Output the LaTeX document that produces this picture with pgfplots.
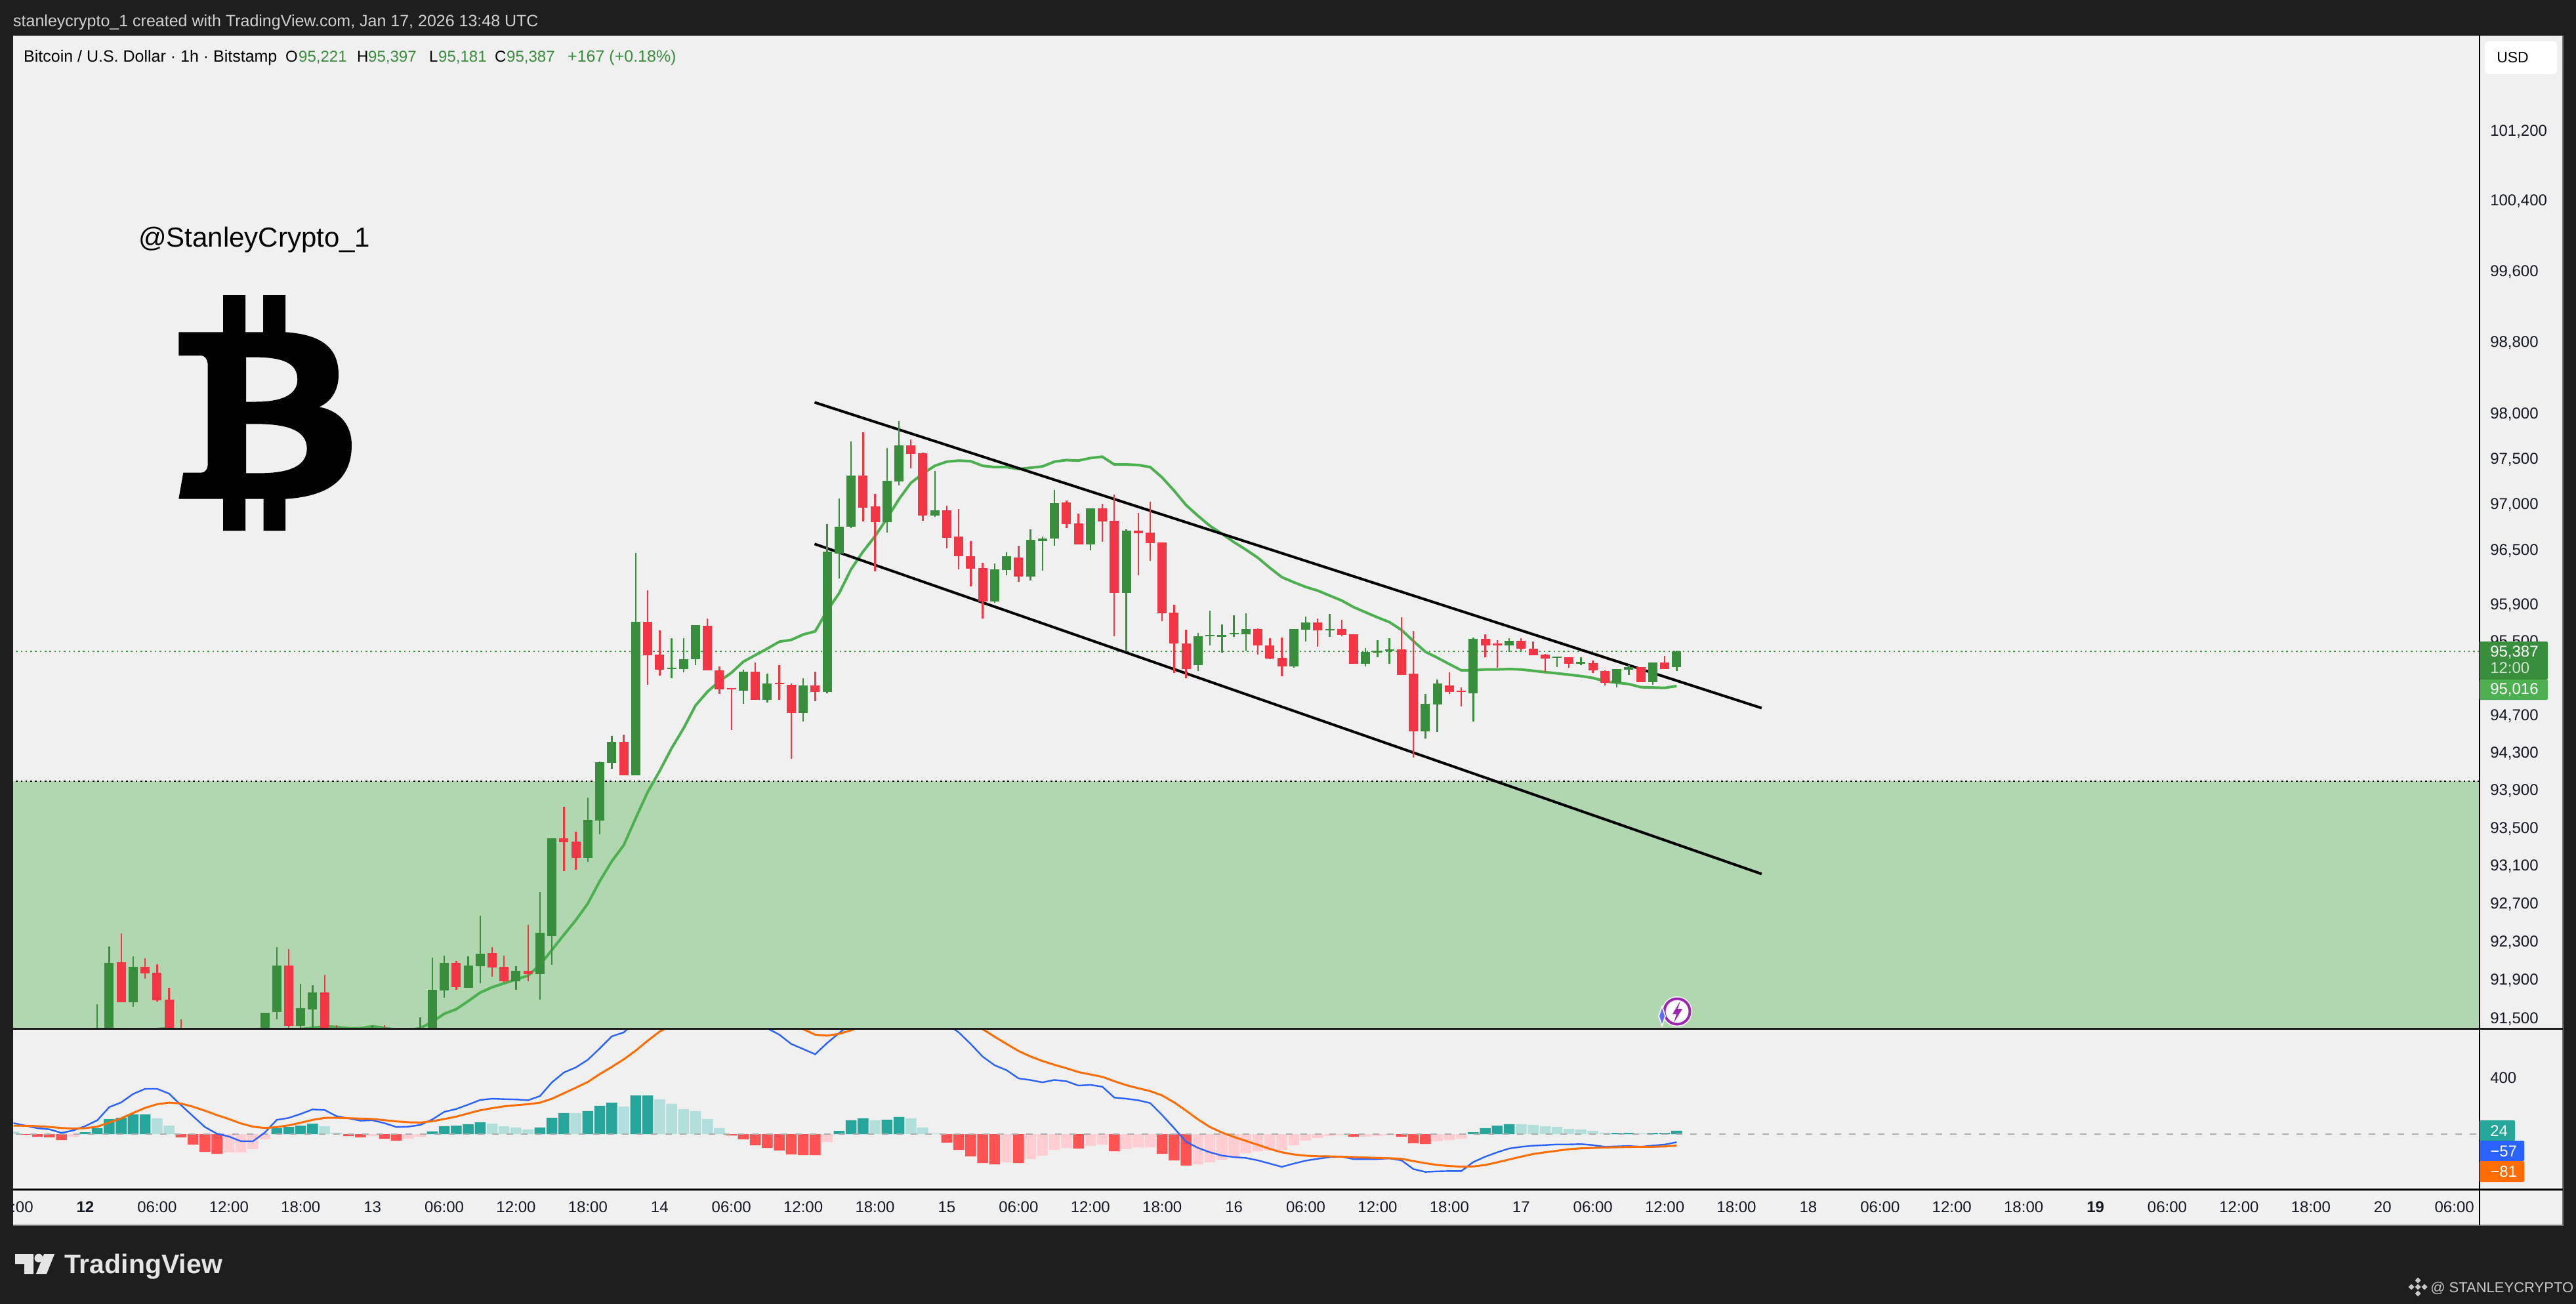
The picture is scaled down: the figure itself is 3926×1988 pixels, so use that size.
\documentclass[border=0pt]{standalone}
\usepackage{fontspec}
\setmainfont{Liberation Sans}
\usepackage{pgfplots}
\usepackage{pgfplotstable}
\pgfplotsset{compat=1.18}
\definecolor{dark}{HTML}{1E1E1E}
\definecolor{panel}{HTML}{F0F0F0}
\definecolor{zone}{HTML}{B1D7B1}
\definecolor{upc}{HTML}{388E3C}
\definecolor{dnc}{HTML}{F23645}
\definecolor{ema}{HTML}{4CAF50}
\definecolor{hteal}{HTML}{26A69A}
\definecolor{hlight}{HTML}{B2DFDB}
\definecolor{hred}{HTML}{FF5252}
\definecolor{hpink}{HTML}{FFCDD2}
\definecolor{macd}{HTML}{2962FF}
\definecolor{sig}{HTML}{FF6D00}
\definecolor{ticktxt}{HTML}{131722}
\definecolor{flash}{HTML}{9C27B0}
\definecolor{spark}{HTML}{5E6BFF}
\newcommand{\fs}[1]{\fontsize{#1}{#1}\selectfont}
\makeatletter
\newcommand{\pricetrafo}[1]{\begingroup\pgfkeys{/pgf/fpu=true,/pgf/fpu/output format=fixed}\pgfmathparse{ln(#1/91500)*1000}\pgfmath@smuggleone\pgfmathresult\endgroup}
\makeatother
% one vertical stroke per row of a candle table: table, first column, second column, colour, width
\newcommand{\candles}[5]{%
  \pgfplotstablegetrowsof{#1}\pgfmathtruncatemacro\nlast{\pgfplotsretval-1}%
  \pgfplotsforeachungrouped \ri in {0,...,\nlast}{%
    \pgfplotstablegetelem{\ri}{h}\of{#1}\let\cvH\pgfplotsretval
    \pgfplotstablegetelem{\ri}{#2}\of{#1}\let\cvA\pgfplotsretval
    \pgfplotstablegetelem{\ri}{#3}\of{#1}\let\cvB\pgfplotsretval
    \edef\cvDo{\noexpand\addplot[color=#4,line width=#5,forget plot] coordinates {(\cvH,\cvA)(\cvH,\cvB)};}%
    \cvDo
  }%
}
% h = hours since 12 Jan 00:00
\pgfplotstableread{
h open high low close
1 91200 91640 91100 91350
2 91300 92245 91200 92073
4 91660 92142 91612 92032
15 91250 91550 91200 91550
16 91557 92238 91488 92045
18 91419 91853 91371 91598
19 91591 91839 91371 91763
24 91280 91426 91200 91340
28 91250 91509 91200 91350
29 91350 92128 91300 91791
30 91784 92149 91708 92073
32 91812 92142 91812 92045
33 92039 92568 91860 92169
36 91880 92039 91791 91990
38 91956 92816 91688 92389
39 92355 93384 92052 93384
42 93176 93821 93135 93585
43 93578 94200 93433 94196
44 94185 94481 94129 94411
46 94058 96464 94058 95714
49 95200 95529 95095 95215
50 95200 95529 95165 95307
51 95300 95672 95243 95672
55 94968 95194 94827 95172
57 94862 95144 94841 95045
60 94721 95102 94630 95024
62 94947 96780 94940 96478
63 96457 97060 96177 96751
64 96751 97689 96730 97312
67 96802 97616 96687 97254
68 97246 97920 97203 97645
71 96873 97362 96859 96931
76 95932 96349 95918 96285
77 96277 96471 96220 96421
79 96206 96723 96163 96601
80 96593 96636 96270 96622
81 96615 97153 96536 97010
84 96557 96952 96493 96952
87 96019 96723 95400 96708
93 95236 95593 95179 95550
94 95550 95829 95457 95564
95 95543 95679 95379 95564
96 95579 95779 95543 95593
97 95579 95800 95400 95629
101 95229 95636 95215 95629
102 95622 95764 95493 95700
104 95614 95793 95543 95636
107 95257 95429 95229 95386
108 95379 95514 95329 95400
109 95400 95529 95250 95414
112 94524 94933 94453 94827
113 94813 95081 94517 95045
116 94940 95536 94630 95522
119 95457 95529 95386 95507
123 95321 95336 95222 95336
125 95257 95329 95243 95279
128 95052 95200 95003 95200
129 95194 95236 95137 95222
131 95059 95271 95031 95271
133 95221 95397 95181 95387
}\upcandles
\pgfplotstableread{
h open high low close
3 92080 92383 91660 91660
5 92032 92121 91908 91963
6 91970 92059 91667 91681
7 91688 91812 91250 91300
8 91350 91488 91200 91250
17 92045 92217 91371 91419
20 91763 91949 91250 91300
21 91350 91426 91200 91280
25 91340 91426 91200 91280
31 92073 92094 91791 91818
34 92176 92238 91928 92025
35 92032 92149 91867 91880
37 91990 92472 91880 91956
40 93384 93717 93038 93343
41 93349 93453 93051 93176
45 94411 94488 94058 94058
47 95714 96055 95031 95350
48 95357 95614 95130 95194
52 95664 95743 95186 95186
53 95186 95229 94933 94982
54 94996 94996 94545 94982
56 95172 95271 94862 94862
58 95052 95236 94862 95038
59 95031 95045 94235 94721
61 95024 95172 94855 94947
65 97312 97797 96809 96960
66 96967 97110 96263 96802
69 97645 97710 97391 97551
70 97558 97565 96816 96873
72 96931 96981 96514 96629
73 96636 96945 96285 96421
74 96428 96593 96098 96292
75 96299 96356 95743 95932
78 96407 96536 96148 96206
82 97017 97038 96737 96780
83 96787 96895 96557 96557
85 96952 97003 96586 96809
86 96816 97103 95550 96019
88 96708 96902 96220 96680
89 96687 97024 96378 96565
90 96572 96579 95721 95800
91 95807 95893 95158 95472
92 95472 95622 95102 95200
98 95629 95643 95357 95450
99 95457 95529 95307 95314
100 95321 95536 95123 95229
103 95700 95743 95443 95614
105 95636 95729 95557 95564
106 95572 95579 95257 95257
110 95407 95757 95137 95137
111 95144 95607 94242 94531
114 95024 95165 94926 94947
115 94961 95003 94792 94947
117 95522 95572 95329 95457
118 95472 95514 95215 95457
120 95507 95529 95400 95421
121 95421 95493 95350 95350
122 95357 95364 95172 95314
124 95329 95329 95215 95250
126 95264 95293 95158 95186
127 95179 95186 95024 95052
130 95222 95222 95059 95059
132 95271 95343 95200 95200
}\dncandles
\pgfplotstableread{
h v
6 91385
7 91395
8 91378
12 91357
18 91385
19 91399
20 91416
21 91406
22 91395
23 91395
24 91412
25 91399
26 91378
27 91378
28 91392
29 91461
30 91543
31 91591
32 91674
33 91763
34 91818
35 91860
36 91901
37 91942
38 92052
39 92211
40 92369
41 92520
42 92699
43 92934
44 93142
45 93315
46 93599
47 93876
48 94101
49 94347
50 94559
51 94806
52 94954
53 95067
54 95158
55 95278
56 95350
57 95421
58 95493
59 95514
60 95572
61 95607
62 95829
63 96019
64 96285
65 96478
66 96644
67 96837
68 97053
69 97232
70 97333
71 97420
72 97464
73 97478
74 97471
75 97420
76 97406
77 97406
78 97384
79 97399
80 97413
81 97464
82 97486
83 97478
84 97507
85 97522
86 97435
87 97435
88 97428
89 97406
90 97290
91 97146
92 96988
93 96866
94 96758
95 96672
96 96579
97 96500
98 96407
99 96299
100 96198
101 96141
102 96091
103 96048
104 95997
105 95943
106 95871
107 95814
108 95757
109 95707
110 95622
111 95500
112 95386
113 95321
114 95250
115 95186
116 95186
117 95194
118 95194
119 95200
120 95194
121 95179
122 95165
123 95151
124 95137
125 95123
126 95102
127 95067
128 95052
129 95038
130 95003
131 95000
132 94996
133 95016
}\emaline
\pgfplotstableread{
h v
0 14
1 42
2 107
3 116
4 140
5 140
16 42
17 51
18 60
19 74
29 19
30 56
31 60
32 70
33 84
38 47
39 116
40 149
42 163
43 200
44 223
46 274
47 274
63 23
64 98
65 112
67 102
68 121
116 14
117 42
118 60
119 70
128 9
129 9
131 9
132 9
133 24
}\histteal
\pgfplotstableread{
h v
-6 18
6 112
7 60
20 56
21 9
34 74
35 56
36 47
37 33
41 149
45 195
48 246
49 214
50 177
51 163
52 107
53 42
66 98
69 112
70 47
71 5
120 70
121 65
122 56
123 51
124 37
125 33
126 23
127 9
130 5
}\histlight
\pgfplotstableread{
h v
-5 -5
-4 -19
-3 -23
-2 -42
8 -23
9 -74
10 -126
11 -140
22 -14
23 -23
25 -33
26 -47
54 -9
55 -37
56 -79
57 -98
58 -116
59 -144
60 -149
61 -149
72 -60
73 -112
74 -158
75 -205
76 -214
78 -205
83 -102
86 -121
90 -140
91 -186
92 -223
106 -19
110 -19
111 -65
112 -70
}\histred
\pgfplotstableread{
h v
-1 -19
12 -130
13 -130
14 -107
15 -37
24 -14
27 -33
28 -19
62 -56
77 -200
79 -177
80 -153
81 -112
82 -98
84 -84
85 -74
87 -107
88 -93
89 -93
93 -214
94 -200
95 -181
96 -158
97 -135
98 -121
99 -116
100 -112
101 -79
102 -47
103 -28
104 -14
105 -8
107 -19
108 -14
109 -9
113 -51
114 -42
115 -33
}\histpink
\pgfplotstableread{
h v
-6 78
-5 60
-4 42
-3 34
-2 9
-1 26
0 57
1 98
2 191
3 225
4 285
5 321
6 321
7 287
8 205
9 127
10 50
11 3
12 -17
13 -50
14 -51
15 11
16 101
17 115
18 143
19 175
20 171
21 127
22 112
23 95
24 98
25 78
26 50
27 53
28 65
29 104
30 158
31 178
32 209
33 242
34 251
35 248
36 246
37 240
38 270
39 367
40 437
41 473
42 527
43 608
44 693
45 721
46 800
47 850
48 900
49 920
50 900
51 880
52 860
53 840
54 820
55 800
56 780
57 750
58 705
59 639
60 603
61 566
62 646
63 716
64 786
65 830
66 850
67 860
68 890
69 900
70 880
71 840
72 780
73 721
74 639
75 549
76 488
77 453
78 395
79 383
80 367
81 384
82 375
83 344
84 349
85 336
86 259
87 251
88 240
89 220
90 135
91 42
92 -54
93 -98
94 -129
95 -152
96 -163
97 -169
98 -186
99 -209
100 -232
101 -209
102 -188
103 -175
104 -163
105 -160
106 -177
107 -178
108 -177
109 -172
110 -186
111 -248
112 -268
113 -264
114 -262
115 -262
116 -198
117 -160
118 -129
119 -102
120 -90
121 -82
122 -78
123 -73
124 -73
125 -71
126 -78
127 -90
128 -87
129 -84
130 -90
131 -81
132 -74
133 -57
}\macdline
\pgfplotstableread{
h v
-6 60
-5 59
-4 56
-3 51
-2 43
-1 40
0 42
1 53
2 82
3 112
4 150
5 186
6 212
7 223
8 217
9 194
10 166
11 135
12 107
13 76
14 53
15 43
16 50
17 62
18 81
19 101
20 115
21 116
22 113
23 110
24 107
25 99
26 90
27 84
28 82
29 91
30 107
31 124
32 147
33 169
34 184
35 197
36 205
37 212
38 223
39 251
40 290
41 329
42 370
43 426
44 476
45 530
46 592
47 662
48 727
49 770
50 800
51 820
52 840
53 850
54 860
55 860
56 850
57 830
58 800
59 770
60 744
61 705
62 698
63 711
64 736
65 770
66 790
67 810
68 830
69 840
70 840
71 830
72 810
73 790
74 765
75 744
76 690
77 639
78 589
79 550
80 518
81 491
82 467
83 440
84 423
85 406
86 375
87 347
88 325
89 305
90 274
91 225
92 166
93 104
94 50
95 11
96 -20
97 -48
98 -76
99 -105
100 -129
101 -144
102 -153
103 -157
104 -158
105 -160
106 -163
107 -166
108 -169
109 -171
110 -175
111 -191
112 -206
113 -219
114 -226
115 -231
116 -229
117 -219
118 -200
119 -180
120 -160
121 -141
122 -129
123 -118
124 -107
125 -101
126 -98
127 -95
128 -93
129 -91
130 -90
131 -90
132 -87
133 -81
}\signalline
\pgfplotsset{
  paneaxis/.style={
    scale only axis, width=3758pt,
    xmin=-6.032, xmax=200.05,
    axis line style={draw=none},
    tick style={draw=none},
    major tick length=0pt,
    xtick=\empty,
    yticklabel pos=right,
    yticklabel style={font=\fs{24}, text=ticktxt, inner sep=0pt, anchor=base west, xshift=17pt, yshift=-8.5pt},
    clip=true,
  },
}
\begin{document}
\begin{tikzpicture}
\useasboundingbox (0,0) rectangle (3926pt,-1988pt);
\begin{scope}[x=1pt,y=-1pt]
  \fill[dark] (0,0) rectangle (3926,1988);
  \fill[panel] (20,54) rectangle (3906,1868);
  \draw[color=black!55,line width=1.5pt] (20,54.5) -- (3906,54.5) -- (3906,1868) -- (20,1868);
\end{scope}

% ---- price pane (logarithmic price scale)
\begin{axis}[paneaxis, at={(20pt,-55pt)}, anchor=north west, height=1512pt,
  y coord trafo/.code={\pricetrafo{#1}},
  ymin=91398, ymax=102283,
  ytick={101200,100400,99600,98800,98000,97500,97000,96500,95900,95500,94700,94300,93900,93500,93100,92700,92300,91900,91500},
  yticklabels={{101,200},{100,400},{99,600},{98,800},{98,000},{97,500},{97,000},{96,500},{95,900},{95,500},{94,700},{94,300},{93,900},{93,500},{93,100},{92,700},{92,300},{91,900},{91,500}}]
  \addplot[fill=zone,draw=none,forget plot] coordinates {(-7,93992)(201,93992)(201,91200)(-7,91200)};
  \addplot[black,line width=1.8pt,dash pattern=on 2.5pt off 4.8pt,forget plot] coordinates {(-7,93992)(201,93992)};
  \addplot[upc,line width=1.6pt,dash pattern=on 2.5pt off 4.8pt,forget plot] coordinates {(-7,95387)(201,95387)};
  \addplot[ema,line width=4pt,forget plot] table[x=h,y=v] {\emaline};
  \addplot[black,line width=4pt,forget plot] coordinates {(60.95,98125)(140.1,94778)};
  \addplot[black,line width=4pt,forget plot] coordinates {(60.95,96558)(140.1,93010)};
  \candles{\upcandles}{high}{low}{upc}{2.4pt}
  \candles{\upcandles}{open}{close}{upc}{14pt}
  \candles{\dncandles}{high}{low}{dnc}{2.4pt}
  \candles{\dncandles}{open}{close}{dnc}{14pt}
\end{axis}

% ---- MACD pane
\begin{axis}[paneaxis, at={(20pt,-1568pt)}, anchor=north west, height=245pt,
  ymin=-390.6, ymax=748.6,
  ytick={400}, yticklabels={400}]
  \addplot[ybar,bar width=16.5pt,bar shift=0pt,fill=hteal,draw=none,forget plot] table[x=h,y=v] {\histteal};
  \addplot[ybar,bar width=16.5pt,bar shift=0pt,fill=hlight,draw=none,forget plot] table[x=h,y=v] {\histlight};
  \addplot[ybar,bar width=16.5pt,bar shift=0pt,fill=hred,draw=none,forget plot] table[x=h,y=v] {\histred};
  \addplot[ybar,bar width=16.5pt,bar shift=0pt,fill=hpink,draw=none,forget plot] table[x=h,y=v] {\histpink};
  \addplot[black!32,line width=2.4pt,dash pattern=on 10pt off 12pt,forget plot] coordinates {(-7,0)(201,0)};
  \addplot[macd,line width=2.4pt,forget plot] table[x=h,y=v] {\macdline};
  \addplot[sig,line width=3pt,forget plot] table[x=h,y=v] {\signalline};
\end{axis}

% ---- time scale
\begin{axis}[paneaxis, at={(20pt,-1813pt)}, anchor=north west, height=55pt,
  ymin=0, ymax=1, ytick=\empty,
  xtick={0,6,12,18,24,30,36,42,48,54,60,66,72,78,84,90,96,102,108,114,120,126,132,138,144,150,156,162,168,174,180,186,192,198},
  xticklabels={\textbf{12},06:00,12:00,18:00,13,06:00,12:00,18:00,14,06:00,12:00,18:00,15,06:00,12:00,18:00,16,06:00,12:00,18:00,17,06:00,12:00,18:00,18,06:00,12:00,18:00,\textbf{19},06:00,12:00,18:00,20,06:00},
  xticklabel style={font=\fs{24}, text=ticktxt, inner sep=0pt, anchor=base, yshift=-35.5pt},
  xticklabel pos=upper]
\end{axis}

\begin{scope}[x=1pt,y=-1pt]
  % frame lines
  \draw[color=black,line width=2pt] (3779,54) -- (3779,1868);
  \draw[color=dark,line width=3pt] (20,1568) -- (3906,1568);
  \draw[color=black,line width=3pt] (20,1813) -- (3906,1813);
  % clipped first time label
  \begin{scope}
    \clip (20,1820) rectangle (120,1860);
    \node[font=\fs{24},text=ticktxt,inner sep=0pt,anchor=base] at (20.6,1848.5) {18:00};
  \end{scope}
  % header
  \node[font=\fs{25},text=black!18,inner sep=0pt,anchor=base west] at (20,40.5) {stanleycrypto\_1 created with TradingView.com, Jan 17, 2026 13:48 UTC};
  % legend
  \begin{scope}[every node/.style={font=\fs{24},inner sep=0pt,anchor=base west}]
    \node[text=black,font=\fs{25}] at (36,94.5) {Bitcoin / U.S. Dollar · 1h · Bitstamp};
    \node[text=black] at (435,94.5) {O};
    \node[text=upc] at (455,94.5) {95,221};
    \node[text=black] at (544,94.5) {H};
    \node[text=upc] at (561,94.5) {95,397};
    \node[text=black] at (654,94.5) {L};
    \node[text=upc] at (668,94.5) {95,181};
    \node[text=black] at (754,94.5) {C};
    \node[text=upc] at (772,94.5) {95,387};
    \node[text=upc,font=\fs{25}] at (865,94.5) {+167 (+0.18\%)};
  \end{scope}
  % handle and symbol
  \node[font=\fs{42},text=black,inner sep=0pt,anchor=base west] at (211,376) {@StanleyCrypto\_1};
  \fill[black,even odd rule]
    (340,450) -- (374,450) -- (374,506.4) -- (401,506.4) -- (401,450) -- (435,450) -- (435,506.4)
    .. controls (490,510) and (516,530) .. (516,571.4)
    .. controls (516,595) and (505,612) .. (486.7,620.4)
    .. controls (520,627) and (536,650) .. (536,678.6)
    .. controls (536,735) and (495,757) .. (435,760.7)
    -- (435,809) -- (401.7,809) -- (401.7,760.7) -- (374,760.7) -- (374,809) -- (340,809) -- (340,760.7)
    -- (272.3,760.7) -- (279.3,720.7) -- (306.7,720.7)
    .. controls (312,720.7) and (316.7,716) .. (316.7,707)
    -- (316.7,557)
    .. controls (316.7,548) and (312,542) .. (306.7,542)
    -- (272.3,542) -- (272.3,506.4) -- (340,506.4) -- cycle
    (375,544.6) -- (390,544.6) .. controls (430,545) and (453.3,553) .. (453.3,578.6)
    .. controls (453.3,604) and (425,612.5) .. (390,612.5) -- (375,612.5) -- cycle
    (375,646.4) -- (395,646.4) .. controls (440,647) and (467.7,657) .. (467.7,683.9)
    .. controls (467.7,711) and (440,721.4) .. (395,721.4) -- (375,721.4) -- cycle;
  % USD box
  \fill[white,rounded corners=5pt] (3787,63) rectangle (3897,113);
  \node[font=\fs{23},text=black,inner sep=0pt,anchor=base west] at (3805,96) {USD};
  % price tags
  \fill[upc,rounded corners=2pt] (3779,978) rectangle (3883,1036);
  \fill[ema,rounded corners=2pt] (3779,1036) rectangle (3883,1067);
  \node[font=\fs{24},text=white,inner sep=0pt,anchor=base west] at (3795,1001.5) {95,387};
  \node[font=\fs{24},text=white!75!upc,inner sep=0pt,anchor=base west] at (3795,1026.5) {12:00};
  \node[font=\fs{24},text=white,inner sep=0pt,anchor=base west] at (3795,1058.5) {95,016};
  % MACD tags
  \fill[hteal,rounded corners=2pt] (3779,1708) rectangle (3833,1739);
  \fill[macd,rounded corners=2pt] (3779,1739) rectangle (3847,1770);
  \fill[sig,rounded corners=2pt] (3779,1770) rectangle (3847,1802);
  \node[font=\fs{24},text=white,inner sep=0pt,anchor=base west] at (3795,1732.5) {24};
  \node[font=\fs{24},text=white,inner sep=0pt,anchor=base west] at (3795,1763.5) {−57};
  \node[font=\fs{24},text=white,inner sep=0pt,anchor=base west] at (3795,1794.5) {−81};
  % flash icon
  \fill[white] (2556,1542) circle (23);
  \draw[color=flash,line width=4pt] (2556,1542) circle (19.5);
  \fill[color=flash] (2561,1526) -- (2549,1546) -- (2555,1546) -- (2551,1559) -- (2564,1538) -- (2557,1538) -- cycle;
  \fill[white] (2533,1532) -- (2539,1549) -- (2533,1566) -- (2527,1549) -- cycle;
  \fill[color=spark] (2533,1537) -- (2537,1549) -- (2533,1561) -- (2529,1549) -- cycle;
  % footer
  \fill[black!10] (23,1912) -- (51,1912) -- (51,1942) -- (37,1942) -- (37,1927) -- (23,1927) -- cycle;
  \fill[black!10] (59,1918) circle (6.5);
  \fill[black!10] (83,1912) -- (71,1942) -- (55,1942) -- (67,1912) -- cycle;
  \node[font=\bfseries\fs{41},text=black!10,inner sep=0pt,anchor=base west] at (98,1941) {TradingView};
  \foreach \dx/\dy in {0/-10,0/10,-10/0,10/0,0/0}{
    \fill[black!22] (3685+\dx,1962+\dy-4.5) -- (3685+\dx+4.5,1962+\dy) -- (3685+\dx,1962+\dy+4.5) -- (3685+\dx-4.5,1962+\dy) -- cycle;
  }
  \node[font=\fs{22},text=black!22,inner sep=0pt,anchor=base west] at (3704,1970) {@ STANLEYCRYPTO};
\end{scope}
\end{tikzpicture}
\end{document}
